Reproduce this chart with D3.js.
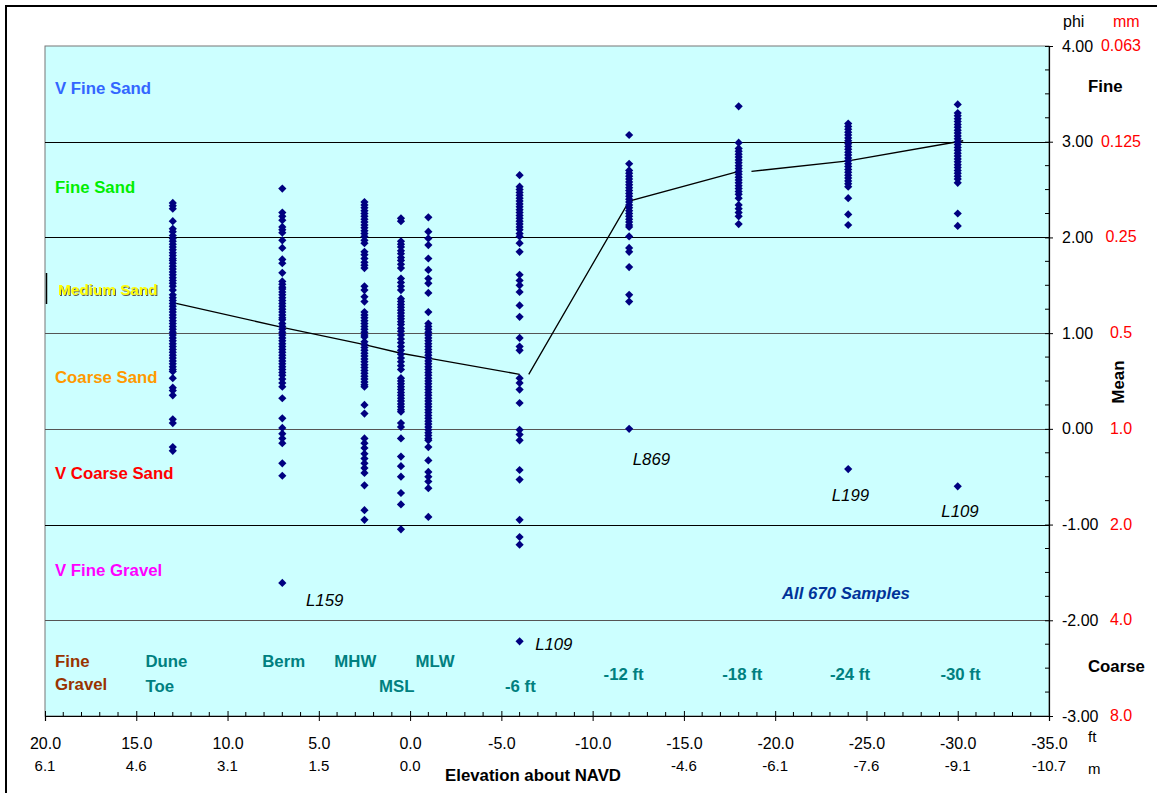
<!DOCTYPE html>
<html>
<head>
<meta charset="utf-8">
<script src="https://cdn.jsdelivr.net/npm/d3@7"></script>
<style>
  body { margin: 0; background: #fff; }
  svg { display: block; font-family: "Liberation Sans", Arial, sans-serif; }
</style>
</head>
<body>
<div id="chart"></div>
<script>
// Mean grain size (phi) by elevation station
const stations = [13, 7, 2.5, 0.5, -1, -6, -12, -18, -24, -30];

const phiDuneToe = [2.36, 2.33, 2.30, 2.17, 2.09, 2.06, 2.02, 1.99, 1.96, 1.93, 1.90, 1.87, 1.84, 1.81, 1.78, 1.76,
  1.73, 1.70, 1.67, 1.64, 1.61, 1.58, 1.55, 1.52, 1.49, 1.45, 1.40, 1.37, 1.34, 1.31, 1.28, 1.25, 1.22, 1.19,
  1.16, 1.13, 1.10, 1.07, 1.04, 1.01, 0.98, 0.95, 0.92, 0.89, 0.86, 0.83, 0.80, 0.77, 0.74, 0.71, 0.68, 0.65,
  0.62, 0.60, 0.53, 0.43, 0.40, 0.35, 0.10, 0.06, -0.19, -0.23];
const phiBerm = [2.51, 2.26, 2.22, 2.18, 2.11, 2.08, 2.05, 1.97, 1.89, 1.77, 1.73, 1.63, 1.54, 1.51, 1.48, 1.46,
  1.43, 1.40, 1.37, 1.34, 1.31, 1.28, 1.25, 1.22, 1.19, 1.16, 1.14, 1.10, 1.07, 1.04, 1.01, 0.98, 0.95, 0.92,
  0.89, 0.86, 0.83, 0.80, 0.77, 0.74, 0.71, 0.68, 0.65, 0.62, 0.59, 0.56, 0.52, 0.48, 0.44, 0.32, 0.11, 0.01,
  -0.05, -0.10, -0.15, -0.36, -0.49, -1.61];
const phiMHW = [2.37, 2.34, 2.31, 2.28, 2.25, 2.22, 2.19, 2.16, 2.13, 2.10, 2.07, 2.04, 2.01, 1.97, 1.94, 1.85,
  1.82, 1.78, 1.74, 1.71, 1.68, 1.49, 1.45, 1.38, 1.33, 1.22, 1.19, 1.16, 1.13, 1.10, 1.07, 1.04, 1.01, 0.98,
  0.96, 0.91, 0.88, 0.85, 0.82, 0.79, 0.76, 0.73, 0.70, 0.67, 0.64, 0.61, 0.58, 0.55, 0.52, 0.49, 0.46, 0.44,
  0.25, 0.16, -0.10, -0.15, -0.20, -0.26, -0.31, -0.36, -0.41, -0.46, -0.59, -0.85, -0.95];
const phiMSL = [2.20, 2.17, 1.96, 1.93, 1.90, 1.86, 1.83, 1.79, 1.76, 1.72, 1.68, 1.57, 1.53, 1.49, 1.45, 1.36,
  1.33, 1.30, 1.27, 1.24, 1.21, 1.18, 1.15, 1.12, 1.09, 1.05, 1.02, 0.98, 0.94, 0.90, 0.86, 0.82, 0.78, 0.74,
  0.70, 0.66, 0.62, 0.53, 0.50, 0.47, 0.44, 0.41, 0.38, 0.35, 0.32, 0.29, 0.26, 0.23, 0.20, 0.18, 0.06, 0.02,
  -0.10, -0.29, -0.39, -0.50, -0.67, -0.79, -1.05];
const phiMLW = [2.21, 2.06, 1.99, 1.92, 1.78, 1.66, 1.57, 1.52, 1.42, 1.22, 1.10, 1.07, 1.04, 1.01, 0.98, 0.95,
  0.92, 0.89, 0.86, 0.83, 0.80, 0.77, 0.74, 0.71, 0.68, 0.65, 0.62, 0.59, 0.56, 0.53, 0.50, 0.47, 0.44, 0.41,
  0.38, 0.35, 0.32, 0.29, 0.26, 0.23, 0.20, 0.17, 0.14, 0.11, 0.08, 0.05, 0.02, -0.01, -0.04, -0.07, -0.10,
  -0.12, -0.19, -0.33, -0.45, -0.50, -0.55, -0.62, -0.92];
const phiMinus6 = [2.65, 2.53, 2.50, 2.47, 2.44, 2.41, 2.38, 2.35, 2.32, 2.29, 2.26, 2.23, 2.20, 2.17, 2.14, 2.11,
  2.08, 2.04, 2.01, 1.94, 1.85, 1.61, 1.55, 1.50, 1.43, 1.29, 1.17, 0.95, 0.86, 0.82, 0.53, 0.48, 0.41, 0.27,
  -0.01, -0.06, -0.12, -0.43, -0.53, -0.95, -1.13, -1.21, -2.22];
const phiMinus12 = [3.07, 2.77, 2.70, 2.67, 2.64, 2.61, 2.58, 2.55, 2.52, 2.49, 2.46, 2.43, 2.40, 2.37, 2.34, 2.31,
  2.28, 2.25, 2.22, 2.19, 2.16, 2.13, 2.11, 2.01, 1.89, 1.85, 1.69, 1.40, 1.33, 0.00];
const phiMinus18 = [3.37, 2.99, 2.93, 2.90, 2.87, 2.84, 2.81, 2.78, 2.75, 2.72, 2.69, 2.66, 2.63, 2.60, 2.57, 2.54,
  2.51, 2.48, 2.45, 2.41, 2.34, 2.30, 2.26, 2.22, 2.14];
const phiMinus24 = [3.19, 3.16, 3.13, 3.10, 3.07, 3.04, 3.01, 2.98, 2.95, 2.92, 2.89, 2.86, 2.83, 2.80, 2.77, 2.74,
  2.71, 2.68, 2.65, 2.62, 2.59, 2.56, 2.53, 2.41, 2.24, 2.13, -0.42];
const phiMinus30 = [3.39, 3.30, 3.27, 3.24, 3.21, 3.18, 3.15, 3.12, 3.09, 3.06, 3.03, 3.00, 2.97, 2.94, 2.91, 2.88,
  2.85, 2.82, 2.79, 2.76, 2.73, 2.70, 2.67, 2.64, 2.61, 2.57, 2.25, 2.12, -0.60];
const phiByStation = [phiDuneToe, phiBerm, phiMHW, phiMSL, phiMLW, phiMinus6, phiMinus12, phiMinus18, phiMinus24, phiMinus30];

// mean trend, drawn as three separate pieces as in the original
const trendShore = [[13, 1.32], [7, 1.06], [2.5, 0.88], [0.5, 0.79], [-1, 0.74], [-6, 0.57]];
const trendMid = [[-6.5, 0.57], [-12, 2.38], [-18, 2.69]];
const trendOff = [[-18.7, 2.69], [-24, 2.80], [-30.3, 3.01]];

// axes
const ftTicks = [20, 15, 10, 5, 0, -5, -10, -15, -20, -25, -30, -35];
const meterLabels = ['6.1', '4.6', '3.1', '1.5', '0.0', '', '', '-4.6', '-6.1', '-7.6', '-9.1', '-10.7'];
const phiTicks = [-3, -2, -1, 0, 1, 2, 3, 4];
const mmLabels = ['8.0', '4.0', '2.0', '1.0', '0.5', '0.25', '0.125', '0.063'];

// sediment classes: label, phi at label centre
const classNames = ['V Fine Sand', 'Fine Sand', 'Medium Sand', 'Coarse Sand', 'V Coarse Sand', 'V Fine Gravel'];
const classPhi = [3.56, 2.53, 1.46, 0.54, -0.46, -1.47];
const classColors = ['#3366ff', '#00ee00', '#ffff00', '#ff9900', '#ff0000', '#ff00ff'];

// station names near the bottom: [text, elevation at left edge, row]
const stationNames = [['Dune', 14.5, 0], ['Toe', 14.5, 1], ['Berm', 8.1, 0], ['MHW', 4.15, 0], ['MLW', -0.3, 0],
  ['MSL', 1.7, 1], ['-6 ft', -5.2, 1], ['-12 ft', -10.6, 0.5], ['-18 ft', -17.1, 0.5], ['-24 ft', -23.0, 0.5],
  ['-30 ft', -29.05, 0.5]];

// sample ids of outliers: [text, elevation, phi]
const outlierNames = [['L159', 5.7, -1.79], ['L109', -6.85, -2.25], ['L869', -12.2, -0.31], ['L199', -23.1, -0.69], ['L109', -29.1, -0.86]];

const W = 1157, H = 793;
const margin = { top: 46, right: 108, bottom: 77, left: 45 };
const labelSize = 16.8;

const svg = d3.select('#chart').append('svg')
  .attr('width', W)
  .attr('height', H);

const x = d3.scaleLinear().domain([20, -35]).range([margin.left, W - margin.right]);
const y = d3.scaleLinear().domain([-3, 4]).range([H - margin.bottom, margin.top]);

const defs = svg.append('defs');
const shadow = defs.append('filter').attr('id', 'shadow')
  .attr('x', -0.1).attr('y', -0.3).attr('width', 1.2).attr('height', 1.6);
shadow.append('feDropShadow')
  .attr('dx', 1).attr('dy', 1).attr('stdDeviation', 0.4)
  .attr('flood-color', '#555').attr('flood-opacity', 1);

// outer frame
svg.append('rect')
  .attr('x', 6).attr('y', 6)
  .attr('width', W + 20).attr('height', H + 20)
  .attr('fill', 'none')
  .attr('stroke', '#000')
  .attr('stroke-width', 2);

// plot area
svg.append('rect')
  .attr('x', x(20)).attr('y', y(4))
  .attr('width', x(-35) - x(20)).attr('height', y(-3) - y(4))
  .attr('fill', '#ccffff')
  .attr('stroke', '#777')
  .attr('stroke-width', 1);

// grid lines
svg.append('g')
  .selectAll('line')
  .data([-2, -1, 0, 1, 2, 3])
  .join('line')
  .attr('x1', x(20)).attr('x2', x(-35))
  .attr('y1', d => Math.round(y(d)) + 0.5).attr('y2', d => Math.round(y(d)) + 0.5)
  .attr('stroke', d => (d === 0 || d === 1 || d === -2) ? '#555' : '#000')
  .attr('stroke-width', 1);

// bottom axis: feet
const xAxis = svg.append('g')
  .attr('transform', `translate(0,${y(-3)})`)
  .call(d3.axisBottom(x).tickValues(ftTicks).tickFormat(d => d.toFixed(1)).tickSize(5).tickPadding(17));
xAxis.select('.domain').attr('stroke', '#000').attr('stroke-width', 1.2);
xAxis.selectAll('.tick line').attr('y1', -5).attr('y2', 5).attr('stroke', '#000');
xAxis.selectAll('.tick text').attr('font-size', 16).attr('fill', '#000');

// minor feet ticks
svg.append('g')
  .selectAll('line')
  .data(d3.range(19, -35, -1).filter(v => v % 5 !== 0))
  .join('line')
  .attr('x1', d => x(d)).attr('x2', d => x(d))
  .attr('y1', y(-3) - 4).attr('y2', y(-3))
  .attr('stroke', '#000');

// metres below feet
svg.append('g')
  .selectAll('text')
  .data(ftTicks.map((f, i) => ({ f, label: meterLabels[i] })).filter(d => d.label))
  .join('text')
  .attr('x', d => x(d.f))
  .attr('y', 771)
  .attr('text-anchor', 'middle')
  .attr('font-size', 15)
  .text(d => d.label);

svg.append('text').attr('x', 1088).attr('y', 742).attr('font-size', 15).text('ft');
svg.append('text').attr('x', 1088).attr('y', 774).attr('font-size', 15).text('m');
svg.append('text')
  .attr('x', 533).attr('y', 781)
  .attr('text-anchor', 'middle')
  .attr('font-size', labelSize).attr('font-weight', 'bold')
  .text('Elevation about NAVD');

// right axis: phi
const yAxis = svg.append('g')
  .attr('transform', `translate(${x(-35)},0)`)
  .call(d3.axisRight(y).tickValues(phiTicks).tickFormat(d => d.toFixed(2)).tickSize(4).tickPadding(9));
yAxis.select('.domain').attr('stroke', '#000').attr('stroke-width', 1.2);
yAxis.selectAll('.tick line').attr('x1', -4).attr('x2', 4).attr('stroke', '#000');
yAxis.selectAll('.tick text').attr('font-size', 16).attr('fill', '#000');

svg.append('g')
  .selectAll('line')
  .data(d3.range(-2.75, 4, 0.25).filter(v => v % 1 !== 0))
  .join('line')
  .attr('x1', x(-35) - 4).attr('x2', x(-35))
  .attr('y1', d => y(d)).attr('y2', d => y(d))
  .attr('stroke', '#000');

// mm equivalents
svg.append('g')
  .selectAll('text')
  .data(phiTicks.map((p, i) => ({ p, label: mmLabels[i] })))
  .join('text')
  .attr('x', 1121)
  .attr('y', d => y(d.p) + 5)
  .attr('text-anchor', 'middle')
  .attr('font-size', 16)
  .attr('fill', '#ff0000')
  .text(d => d.label);

svg.append('text').attr('x', 1063).attr('y', 27).attr('font-size', 16).text('phi');
svg.append('text').attr('x', 1113).attr('y', 27).attr('font-size', 16).attr('fill', '#ff0000').text('mm');
svg.append('text').attr('x', 1088).attr('y', 92).attr('font-size', labelSize).attr('font-weight', 'bold').text('Fine');
svg.append('text').attr('x', 1088).attr('y', 672).attr('font-size', labelSize).attr('font-weight', 'bold').text('Coarse');
svg.append('text')
  .attr('transform', 'translate(1124,382) rotate(-90)')
  .attr('text-anchor', 'middle')
  .attr('font-size', labelSize).attr('font-weight', 'bold')
  .text('Mean');

// sediment class labels
svg.append('g')
  .selectAll('text')
  .data(classNames.map((name, i) => ({ name, phi: classPhi[i], color: classColors[i] })))
  .join('text')
  .attr('x', d => d.name === 'Medium Sand' ? 58 : 55)
  .attr('y', d => y(d.phi) + 6)
  .attr('font-size', d => d.name === 'Medium Sand' ? 15.3 : labelSize)
  .attr('font-weight', 'bold')
  .attr('fill', d => d.color)
  .attr('filter', d => d.name === 'Medium Sand' ? 'url(#shadow)' : null)
  .text(d => d.name);

// small mark at the medium sand legend
svg.append('line')
  .attr('x1', 46.5).attr('x2', 46.5)
  .attr('y1', 273).attr('y2', 304)
  .attr('stroke', '#000').attr('stroke-width', 1.5);

// fine gravel label (two lines)
svg.append('text').attr('x', 55).attr('y', 667).attr('font-size', labelSize).attr('font-weight', 'bold').attr('fill', '#993300').text('Fine');
svg.append('text').attr('x', 55).attr('y', 690).attr('font-size', labelSize).attr('font-weight', 'bold').attr('fill', '#993300').text('Gravel');

// station labels
svg.append('g')
  .selectAll('text')
  .data(stationNames)
  .join('text')
  .attr('x', d => x(d[1]))
  .attr('y', d => 667 + d[2] * 25)
  .attr('font-size', labelSize)
  .attr('font-weight', 'bold')
  .attr('fill', '#008080')
  .text(d => d[0]);

// trend line
const line = d3.line().x(d => x(d[0])).y(d => y(d[1]));
svg.append('g')
  .selectAll('path')
  .data([trendShore, trendMid, trendOff])
  .join('path')
  .attr('d', line)
  .attr('fill', 'none')
  .attr('stroke', '#000')
  .attr('stroke-width', 1.3);

// samples
const points = stations.flatMap((s, i) => phiByStation[i].map(p => ({ s, p })));
svg.append('g')
  .selectAll('path')
  .data(points)
  .join('path')
  .attr('transform', d => `translate(${x(d.s)},${y(d.p)})`)
  .attr('d', 'M0,-4.1L4.1,0L0,4.1L-4.1,0Z')
  .attr('fill', '#000080');

// outlier ids
svg.append('g')
  .selectAll('text')
  .data(outlierNames)
  .join('text')
  .attr('x', d => x(d[1]))
  .attr('y', d => y(d[2]) + 6)
  .attr('font-size', labelSize)
  .attr('font-style', 'italic')
  .attr('fill', '#000')
  .text(d => d[0]);

svg.append('text')
  .attr('x', 782).attr('y', 599)
  .attr('font-size', labelSize)
  .attr('font-weight', 'bold')
  .attr('font-style', 'italic')
  .attr('fill', '#003399')
  .text('All 670 Samples');
</script>
</body>
</html>
